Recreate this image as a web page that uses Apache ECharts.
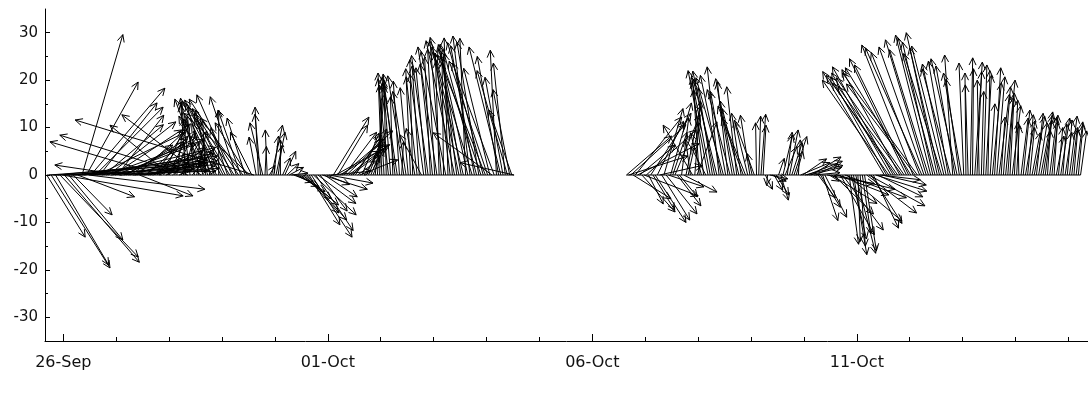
<!DOCTYPE html>
<html>
<head>
<meta charset="utf-8">
<script src="https://cdn.jsdelivr.net/npm/echarts@6/dist/echarts.min.js"></script>
<style>
  html, body { margin: 0; padding: 0; background: #fff; }
  #chart { width: 1088px; height: 394px; }
</style>
</head>
<body>
<div id="chart"></div>
<script>
// time axis is in days from 26-Sep 00:00, hourly samples
var stepDays = 1 / 24
var seg1Start = -0.3125   // 25-Sep 16:30
var seg2Start = 10.6458   // 06-Oct 15:30

// vector components (east, north), first stretch
var u1 = [8.1, 27.0, 12.4, 29.5, 11.2, 31.0, 16.5, 25.5, 15.8, 31.5,
  11.4, 28.0, 8.2, 30.0, 12.0, 26.5, 8.6, 22.0, 10.9, 24.5,
  15.6, 26.0, 14.3, 18.5, 12.1, 24.0, 12.5, 20.5, 14.2, 22.5,
  14.5, 17.0, 9.8, 21.0, -14.1, 15.5, 12.9, 18.0, 8.9, 16.0,
  11.6, 10.5, 11.3, 13.5, 9.5, 8.0, 12.3, 11.0, 10.8, 7.5,
  6.5, 9.6, -23.5, 5.0, 8.8, 3.5, -12.7, 6.8, 4.2, 1.5,
  6.1, 3.8, 2.5, -1.0, -27.0, -2.0, 4.6, -1.5, 2.1, -3.8,
  -16.7, -6.0, -0.6, -4.5, -3.0, -7.0, -4.0, -5.2, 0.0, -8.2,
  -7.4, -6.5, -3.5, -9.5, -7.4, -8.8, -5.5, -10.4, -4.8, -9.0,
  -3.8, -6.8, -13.8, -4.5, -37.7, -1.5, -0.7, -1.2, -2.7, 0.3,
  -0.4, 1.2, 2.3, 1.0, 1.9, 0.8, 0.0, 1.6, 2.3, 2.5,
  3.0, 3.5, 4.0, 4.8, 5.7, 6.6, 7.6, 7.2, 8.4, 6.5,
  8.6, 9.0, 7.9, 8.0, 5.7, 9.5, 6.9, 4.8, 9.3, 8.5,
  7.5, 9.0, 6.3, 10.5, 8.9, 6.8, 9.7, 8.2, 7.4, 6.0,
  5.5, 4.2, 8.0, 3.6, 4.4, 2.8, 3.8, 1.8, 2.2, 2.0,
  1.3, 0.6, -0.8, -1.0, -0.5, -2.2, -1.5, -0.5, -2.5, -3.0,
  -1.3, 0.4, -3.4, -2.8, -1.7, -1.0, -0.6, -1.8, -2.3, -1.5,
  -4.6, -2.9, -2.1, -3.5, -1.2, -2.6, -1.5, -4.0, -0.8, -2.4,
  -0.3, -5.2, -0.8, -3.0, -2.0, -6.0, -3.5, -5.5, -4.2, -7.0,
  -1.2, -6.2, -3.6, -8.5, -5.0, -6.8, -4.6, -9.0, -7.5, -10.0,
  -8.1, -5.5, -12.4, -8.8, -1.3, -4.5, -6.7, -3.8, -2.5, -6.4,
  -3.5, -4.8, -11.4]
var v1 = [-13.1, 2.0, -19.6, 1.2, -19.0, 3.0, -17.3, -4.4, -18.4, 0.8,
  -13.7, 2.6, -8.4, 4.0, -4.6, 1.8, 29.6, 3.4, 19.6, -3.0,
  18.3, 2.2, 14.3, 9.0, 15.2, 5.8, 10.6, 7.4, 11.2, 3.0,
  9.5, 6.5, 12.6, 1.4, 2.1, 8.0, 7.6, 4.6, 6.3, 1.0,
  4.2, 9.6, -4.4, 2.5, 1.5, 7.0, 3.5, 5.0, 2.8, 10.8,
  8.2, 4.4, 7.0, 11.5, 3.2, 6.8, 10.5, 5.8, 9.4, 11.8,
  2.6, 7.0, 8.9, 14.8, 8.4, 16.2, 5.4, 12.5, 9.3, 15.4,
  12.7, 16.0, 11.5, 15.0, 13.6, 12.4, 12.0, 10.8, 13.7, 15.6,
  14.3, 13.0, 10.0, 15.8, 16.9, 14.0, 16.5, 16.0, 13.7, 12.0,
  12.0, 11.0, 13.0, 9.0, 11.6, 8.0, 14.3, 12.8, 11.0, 6.0,
  9.5, 2.0, 10.5, 8.2, 9.0, 6.2, 7.4, 3.6, 5.0, 2.4,
  1.6, 0.4, -1.5, -2.4, -3.5, -5.0, -6.3, -8.0, -9.5, -10.5,
  -13.1, -8.4, -11.7, -6.0, -7.6, -3.0, -4.6, -2.0, -1.7, 0.8,
  12.2, 5.0, 10.5, 6.4, 7.6, 9.0, 9.3, 6.2, 5.5, 7.6,
  8.4, 3.0, 3.2, 8.8, 7.0, 6.4, 9.7, 4.2, 5.5, 17.0,
  19.4, 20.6, 21.5, 19.0, 20.0, 20.3, 18.8, 16.5, 21.3, 19.5,
  19.8, 7.0, 20.9, 17.6, 18.4, 22.4, 24.3, 9.8, 20.7, 23.0,
  8.5, 21.2, 22.6, 25.2, 24.8, 23.4, 26.5, 27.0, 25.7, 28.2,
  23.8, 26.0, 28.9, 24.2, 26.4, 28.3, 27.6, 26.0, 25.1, 29.0,
  28.8, 27.5, 29.3, 27.0, 27.2, 25.5, 28.0, 26.5, 27.9, 25.2,
  24.0, 22.5, 8.9, 23.6, 26.3, 25.0, 27.0, 20.6, 23.6, 22.0,
  18.0, 13.7, 2.6]

// second stretch
var u2 = [9.5, 12.5, 11.6, 8.0, 9.8, 13.0, 7.5, 7.0, 11.4, 10.5,
  3.1, 8.5, 4.6, 6.5, 5.5, 9.0, 5.9, 4.0, 6.5, 7.5,
  4.4, 3.0, 5.3, 5.0, 3.8, 1.5, 7.0, 3.0, 2.4, -1.0,
  -6.2, 1.2, 4.2, -1.2, -2.3, -2.5, -3.2, -4.2, -3.8, -3.0,
  -4.6, -5.0, -2.5, -4.4, -5.8, -3.2, -2.2, -4.8, -3.5, -3.0,
  -2.1, -3.5, -2.0, -4.5, -5.8, -2.8, -2.0, -1.0, -4.0, -0.2,
  0.4, 1.0, 0.6, 1.5, -0.2, 3.8, 3.0, 1.8, 2.6, 1.2,
  1.6, 2.0, 2.5, 1.0, 1.8, 2.2, 2.7, 1.4, 0.4, 6.2,
  5.0, 8.0, 7.4, 6.8, 6.2, 5.5, 4.6, 3.6, 4.2, 3.2,
  4.6, 10.0, 2.1, 9.6, 8.4, 12.5, 10.7, 7.2, 8.6, 13.0,
  11.6, 2.0, 3.2, 2.8, 4.2, 0.5, 1.1, 1.8, 2.5, 10.5,
  11.8, 6.5, 5.3, 10.8, 9.5, 8.5, 9.3, -13.0, -11.8, -14.0,
  -12.5, -12.8, -13.3, -15.0, -12.2, -13.5, -14.3, -12.0, -11.4, -13.8,
  -10.8, -14.5, -15.8, -10.2, -11.9, -9.5, -8.6, -8.2, -7.4, -6.4,
  -7.8, -5.8, -7.0, -8.0, -6.8, -5.0, -4.2, -6.0, -1.7, -4.0,
  -5.5, -2.8, -3.8, -1.0, -0.2, -0.6, 0.5, 0.2, 1.6, 1.0,
  -0.4, 0.5, 0.7, 1.2, 0.4, 1.0, 1.9, 1.3, 1.7, 2.2,
  0.8, 1.5, 2.0, 1.2, 0.9, 1.8, 0.7, 0.6, -0.2, 1.5,
  1.4, 2.0, 1.2, 1.0, 1.7, 2.2, 1.4, 1.8, 2.5, 2.0,
  1.4, 0.6, 1.5, 1.2, 0.8, 1.6, 0.9, 1.9, 0.8, 1.4,
  1.0, 1.6, 1.2, 0.8, 1.4, 1.0, 1.3]
var v2 = [8.2, 4.0, 10.6, -5.0, 12.2, 6.6, 6.3, -7.8, -4.4, 9.5,
  -6.1, 13.0, -7.4, -10.0, 11.3, 2.0, -9.5, 14.0, -8.2, -2.5,
  15.2, 9.0, 12.7, -6.5, -4.6, 12.0, -3.6, 14.5, 11.0, 7.5,
  10.5, 15.6, 11.2, 18.0, 8.9, 20.6, 6.0, 22.0, 19.8, 18.4,
  21.9, 20.2, 22.8, 21.0, 20.5, 17.6, 19.6, 18.0, 20.3, 15.6,
  18.6, 14.0, 13.0, 12.0, 14.5, 11.6, 12.6, 4.5, 11.0, 11.0,
  12.4, 12.8, 10.5, -3.0, -2.2, -0.8, -1.3, -3.2, -4.2, 3.5,
  -5.3, 8.4, 6.0, 9.0, 9.5, 6.8, 8.1, 5.0, 7.4, 2.6,
  3.4, 2.0, 2.9, 1.6, 3.8, 0.5, 2.3, -4.8, -6.8, -9.6,
  -8.9, -1.8, -1.3, -6.0, -8.2, -3.0, -4.2, -12.6, -11.6, -4.8,
  -9.7, -14.6, -13.5, -16.8, -16.5, -14.0, -15.0, -12.4, -16.0, -8.0,
  -6.5, -10.2, -11.2, -3.4, -4.6, -1.0, -2.1, 21.8, 20.7, 20.0,
  21.5, 22.8, 19.4, 21.0, 22.2, 18.6, 20.5, 24.5, 23.2, 22.6,
  27.4, 19.2, 21.5, 25.8, 26.8, 27.0, 28.5, 26.4, 29.5, 28.0,
  28.9, 26.8, 30.0, 25.6, 27.2, 23.4, 24.0, 22.4, 25.3, 23.0,
  24.5, 20.2, 21.5, 23.6, 21.5, 19.0, 24.7, 22.4, 23.8, 21.8,
  20.0, 17.6, 23.2, 21.0, 22.0, 15.0, 19.4, 22.6, 20.7, 17.0,
  12.2, 18.6, 20.0, 16.4, 17.3, 14.6, 15.8, 10.4, 11.2, 12.0,
  13.7, 11.4, 12.7, 10.0, 8.9, 12.4, 13.0, 11.0, 13.3, 12.6,
  11.6, 9.4, 12.2, 11.2, 12.6, 8.2, 10.0, 12.0, 10.8, 9.0,
  11.6, 12.4, 10.0, 9.6, 11.2, 10.6, 9.3]

// axis ticks / labels
var dayTicks = [0, 1, 2, 3, 4, 5, 6, 7, 8, 9, 10, 11, 12, 13, 14, 15, 16, 17, 18, 19]
var dateTicks = [0, 5, 10, 15]
var dateLabels = ['26-Sep', '01-Oct', '06-Oct', '11-Oct']
var yMinorTicks = [-30, -25, -20, -15, -10, -5, 0, 5, 10, 15, 20, 25, 30]
var yMajorTicks = [-30, -20, -10, 0, 10, 20, 30]

function buildData (start, u, v) {
  var out = []
  for (var i = 0; i < u.length; i++) {
    out.push([start + i * stepDays, u[i], v[i]])
  }
  return out
}

var data1 = buildData(seg1Start, u1, v1)
var data2 = buildData(seg2Start, u2, v2)
var vectors = data1.concat(data2)

// stick + open arrow head, u and v use the same pixel scale as the y axis
function renderArrow (params, api) {
  var t = api.value(0)
  var u = api.value(1)
  var v = api.value(2)
  var p0 = api.coord([t, 0])
  var k = api.size([0, 1])[1]
  var x1 = p0[0] + u * k
  var y1 = p0[1] - v * k
  var ang = Math.atan2(y1 - p0[1], x1 - p0[0])
  var hl = 8
  var ha = 0.45
  var h1 = [x1 - hl * Math.cos(ang - ha), y1 - hl * Math.sin(ang - ha)]
  var h2 = [x1 - hl * Math.cos(ang + ha), y1 - hl * Math.sin(ang + ha)]
  return {
    type: 'group',
    children: [
      { type: 'line', shape: { x1: p0[0], y1: p0[1], x2: x1, y2: y1 }, style: { stroke: '#000', lineWidth: 1 } },
      { type: 'polyline', shape: { points: [h1, [x1, y1], h2] }, style: { stroke: '#000', fill: null, lineWidth: 1 } }
    ]
  }
}

var xMin = -0.346
var xMax = 19.37
var fontFam = 'DejaVu Sans'

var chart = echarts.init(document.getElementById('chart'))
chart.setOption({
  animation: false,
  grid: { left: 45, right: 0, top: 9, bottom: 53 },
  xAxis: [
    {
      type: 'value', min: xMin, max: xMax, position: 'bottom',
      axisLine: { onZero: false, lineStyle: { color: '#000', width: 1 } },
      axisTick: { inside: true, length: 4, customValues: dayTicks, lineStyle: { color: '#000' } },
      axisLabel: { show: false },
      splitLine: { show: false }
    },
    {
      type: 'value', min: xMin, max: xMax, position: 'bottom', offset: 0,
      axisLine: { show: false, onZero: false },
      axisTick: { inside: true, length: 7, customValues: dateTicks, lineStyle: { color: '#000' } },
      axisLabel: {
        customValues: dateTicks,
        margin: 14,
        color: '#111',
        fontSize: 16,
        fontFamily: fontFam,
        formatter: function (val) {
          var idx = dateTicks.indexOf(Math.round(val))
          return idx >= 0 ? dateLabels[idx] : ''
        }
      },
      splitLine: { show: false }
    }
  ],
  yAxis: [
    {
      type: 'value', min: -35, max: 35, position: 'left',
      axisLine: { show: true, onZero: false, lineStyle: { color: '#000', width: 1 } },
      axisTick: { show: true, inside: true, length: 3, customValues: yMinorTicks, lineStyle: { color: '#000' } },
      axisLabel: { show: false },
      splitLine: { show: false }
    },
    {
      type: 'value', min: -35, max: 35, position: 'left', offset: 0,
      axisLine: { show: false, onZero: false },
      axisTick: { show: true, inside: true, length: 5, customValues: yMajorTicks, lineStyle: { color: '#000' } },
      axisLabel: { customValues: yMajorTicks, margin: 7, color: '#111', fontSize: 15, fontFamily: fontFam },
      splitLine: { show: false }
    }
  ],
  series: [
    { // zero line of each stretch
      type: 'line',
      data: [[data1[0][0], 0], [data1[data1.length - 1][0], 0]],
      showSymbol: false, silent: true,
      lineStyle: { color: '#000', width: 1 }
    },
    {
      type: 'line',
      data: [[data2[0][0], 0], [data2[data2.length - 1][0], 0]],
      showSymbol: false, silent: true,
      lineStyle: { color: '#000', width: 1 }
    },
    {
      type: 'custom',
      renderItem: renderArrow,
      data: vectors,
      encode: { x: 0, y: 2 },
      clip: false,
      silent: true
    }
  ]
})
</script>
</body>
</html>
